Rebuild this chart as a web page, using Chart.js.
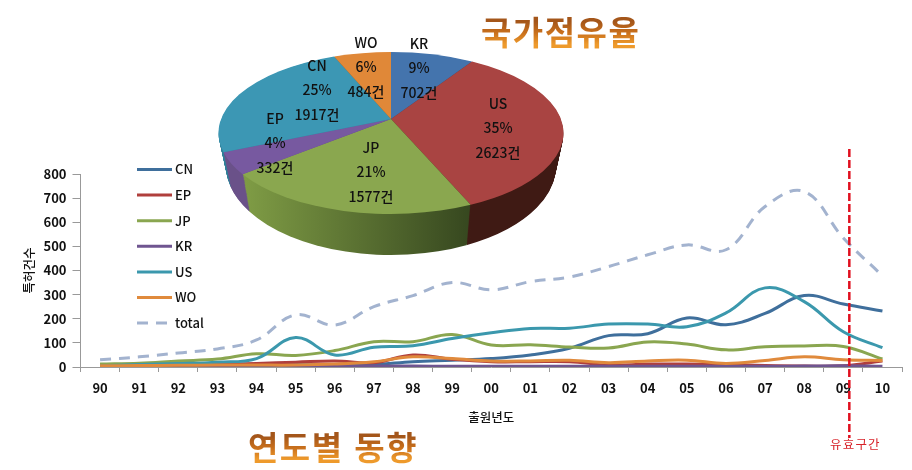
<!DOCTYPE html>
<html lang="ko">
<head>
<meta charset="utf-8">
<title>국가점유율 / 연도별 동향</title>
<script src="https://cdn.jsdelivr.net/npm/chart.js@4"></script>
<style>
  html, body { margin: 0; padding: 0; background: #fff; }
  #stage { position: relative; width: 912px; height: 470px; overflow: hidden; font-family: "Noto Sans CJK KR", sans-serif; }
  #stage canvas { position: absolute; }
  #line-chart { left: 0; top: 0; }
  #pie-chart { left: 191px; top: -67px; }
  .big-title {
    position: absolute; font-size: 33px; font-weight: 700; line-height: 38px; white-space: nowrap; letter-spacing: 1.5px;
    background: linear-gradient(#a4561a 25%, #c9701c 55%, #ee9a2c 85%);
    -webkit-background-clip: text; background-clip: text; color: transparent;
  }
  #pie-title { left: 481px; top: 12px; }
  #trend-title { left: 248px; top: 427px; }
  #valid-label { position: absolute; left: 830px; top: 436px; font-size: 12.5px; line-height: 16px; letter-spacing: 1.2px; color: #d8232a; }
</style>
</head>
<body>
<div id="stage">
  <canvas id="line-chart" width="912" height="470"></canvas>
  <canvas id="pie-chart" width="400" height="400"></canvas>
  <div id="pie-title" class="big-title">국가점유율</div>
  <div id="trend-title" class="big-title">연도별 동향</div>
  <div id="valid-label">유효구간</div>
</div>
<script>
// Yearly filings
const years = ["90","91","92","93","94","95","96","97","98","99","00","01","02","03","04","05","06","07","08","09","10"];
const cn = [3,3,5,6,8,10,8,10,22,28,35,50,78,130,138,203,175,222,296,261,232];
const ep = [8,10,12,12,15,20,25,18,50,32,22,22,22,8,12,12,10,6,4,5,25];
const jp = [12,16,25,33,55,48,68,105,105,135,91,92,83,79,104,95,71,84,87,85,33];
const kr = [1,2,2,3,3,3,5,4,4,3,3,3,3,3,3,3,3,3,4,5,3];
const us = [5,10,14,20,35,122,50,82,88,118,142,160,161,178,178,167,224,328,271,146,80];
const wo = [5,6,7,8,8,8,12,22,42,35,25,25,28,18,25,28,15,27,42,30,27];
const total = [30,42,58,75,112,216,174,250,296,350,320,354,373,416,465,506,486,665,727,535,378];

// Pie values, clockwise from the top
const pieNames = ["KR","US","JP","EP","CN","WO"];
const pieCounts = [702,2623,1577,332,1917,484];
const piePercents = [9,35,21,4,25,6];

// Page position of each slice's text block (middle line)
const pieLabelSpots = [[419,68],[498,128],[371,172],[275,143],[317,90],[366,67]];

const pieColors = ["#4474ad","#a94442","#8aa74f","#7759a0","#3c97b4","#e08838"];
// left and right colour of the pie's rim
const rimColors = [["#2c4a70","#2c4a70"],["#4e221b","#3f1a14"],["#7f9c45","#36471f"],["#6a5189","#57427a"],["#2f7f98","#2f7f98"],["#8f5520","#8f5520"]];

const squash = 81 / 172.5;   // top face height / width
const apexShift = 0.173;     // perspective: the apex sits above the ellipse centre

Chart.defaults.font.family = '"Noto Sans CJK KR", sans-serif';
Chart.defaults.color = "#111";

function makeLine(label, data, color, order) {
  return { label, data, borderColor: color, backgroundColor: color, borderWidth: 3, pointRadius: 0, tension: 0.4, fill: false, order };
}

// Draws the legend inside the plot, where the built-in one can't go
const insideLegend = {
  id: "insideLegend",
  afterDraw(chart) {
    const ctx = chart.ctx;
    ctx.save();
    ctx.font = '500 13px "Noto Sans CJK KR"';
    ctx.textBaseline = "middle";
    chart.data.datasets.forEach((ds, i) => {
      const y = 169.5 + i * 25.6;
      ctx.beginPath();
      ctx.strokeStyle = ds.borderColor;
      ctx.lineWidth = 3;
      ctx.setLineDash(ds.borderDash || []);
      ctx.moveTo(137, y);
      ctx.lineTo(172, y);
      ctx.stroke();
      ctx.setLineDash([]);
      ctx.fillStyle = "#111";
      ctx.fillText(ds.label, 175, y);
    });
    ctx.restore();
  },
};

// Red dashed marker just after the 09 category
const validLine = {
  id: "validLine",
  afterDraw(chart) {
    const ctx = chart.ctx;
    const x = chart.scales.x.getPixelForValue(19) + 6;
    ctx.save();
    ctx.beginPath();
    ctx.strokeStyle = "#e0101f";
    ctx.lineWidth = 2.5;
    ctx.setLineDash([8, 3]);
    ctx.moveTo(x, 149);
    ctx.lineTo(x, 438);
    ctx.stroke();
    ctx.restore();
  },
};

new Chart(document.getElementById("line-chart").getContext("2d"), {
  type: "line",
  data: {
    labels: years,
    datasets: [
      makeLine("CN", cn, "#3f6f9c", 6),
      makeLine("EP", ep, "#b03f3c", 5),
      makeLine("JP", jp, "#8aa650", 4),
      makeLine("KR", kr, "#6f5590", 3),
      makeLine("US", us, "#3b98ad", 2),
      makeLine("WO", wo, "#e08a3c", 1),
      { ...makeLine("total", total, "#a3b3cf", 0), borderDash: [11, 8] },
    ],
  },
  options: {
    responsive: false,
    animation: false,
    layout: { padding: { top: 174, right: 10, left: 22, bottom: 45 } },
    plugins: { legend: { display: false }, tooltip: { enabled: false } },
    scales: {
      x: {
        offset: true,
        grid: { offset: true, drawOnChartArea: false, tickLength: 5, color: "#999" },
        border: { color: "#999" },
        ticks: { padding: 8, maxRotation: 0, autoSkip: false, font: { size: 13, weight: "700" } },
        title: { display: true, text: "출원년도", font: { size: 12.5, weight: "500" }, padding: { top: 11, bottom: 0 } },
        afterFit(scale) { scale.height = 58; },
      },
      y: {
        min: 0,
        max: 800,
        grid: { drawOnChartArea: false, tickLength: 8, color: "#999" },
        border: { color: "#999" },
        ticks: { stepSize: 100, padding: 6, font: { size: 13, weight: "700" } },
        title: { display: true, text: "특허건수", font: { size: 12.5, weight: "500" }, padding: { top: 0, bottom: 4 } },
        afterFit(scale) { scale.width = 58.5; },
      },
    },
  },
  plugins: [insideLegend, validLine],
});

// Maps a slice angle on the flat circle to the angle on the tilted ellipse
function tiltAngle(a) {
  const u = Math.cos(a), v = Math.sin(a);
  const den = 1 - apexShift * v;
  return Math.atan2((v - apexShift) / den, u * Math.sqrt(1 - apexShift * apexShift) / den);
}

function wedge(ctx, cx, cy, rx, ry, arc) {
  const a0 = tiltAngle(arc.startAngle);
  let a1 = tiltAngle(arc.endAngle);
  if (a1 < a0) a1 += Math.PI * 2;
  ctx.beginPath();
  ctx.moveTo(cx, cy - apexShift * ry);
  ctx.ellipse(cx, cy, rx, ry, 0, a0, a1);
  ctx.closePath();
}

// Paints the library's arcs as a tilted disc with a rim and the slice texts
const tiltedPie = {
  id: "tiltedPie",
  beforeDatasetsDraw(chart) {
    const ctx = chart.ctx;
    const arcs = chart.getDatasetMeta(0).data;
    const cx = arcs[0].x, cy = arcs[0].y, r = arcs[0].outerRadius;
    const depth = 40;
    for (let k = depth; k > 0; k--) {
      const t = k / depth;
      arcs.forEach((arc, i) => {
        const g = ctx.createLinearGradient(cx - 147, 0, cx + 80, 0);
        g.addColorStop(0, rimColors[i][0]);
        g.addColorStop(1, rimColors[i][1]);
        wedge(ctx, cx, cy + 33 * t, r - 7.5 * t, r * squash + 8 * t, arc);
        ctx.fillStyle = g;
        ctx.fill();
      });
    }
    arcs.forEach((arc, i) => {
      wedge(ctx, cx, cy, r, r * squash, arc);
      ctx.fillStyle = pieColors[i];
      ctx.fill();
    });

    const box = chart.canvas;
    ctx.save();
    ctx.font = '500 14px "Noto Sans CJK KR"';
    ctx.textAlign = "center";
    ctx.textBaseline = "middle";
    ctx.fillStyle = "#111";
    arcs.forEach((arc, i) => {
      const x = pieLabelSpots[i][0] - box.offsetLeft;
      const y = pieLabelSpots[i][1] - box.offsetTop;
      ctx.fillText(pieNames[i], x, y - 24);
      ctx.fillText(piePercents[i] + "%", x, y);
      ctx.fillText(pieCounts[i] + "건", x, y + 24.5);
    });
    ctx.restore();
    return false;
  },
};

new Chart(document.getElementById("pie-chart").getContext("2d"), {
  type: "pie",
  data: {
    labels: pieNames,
    datasets: [{ data: pieCounts, backgroundColor: pieColors, borderWidth: 0 }],
  },
  options: {
    responsive: false,
    animation: false,
    radius: 172.5,
    plugins: { legend: { display: false }, tooltip: { enabled: false } },
  },
  plugins: [tiltedPie],
});
</script>
</body>
</html>
